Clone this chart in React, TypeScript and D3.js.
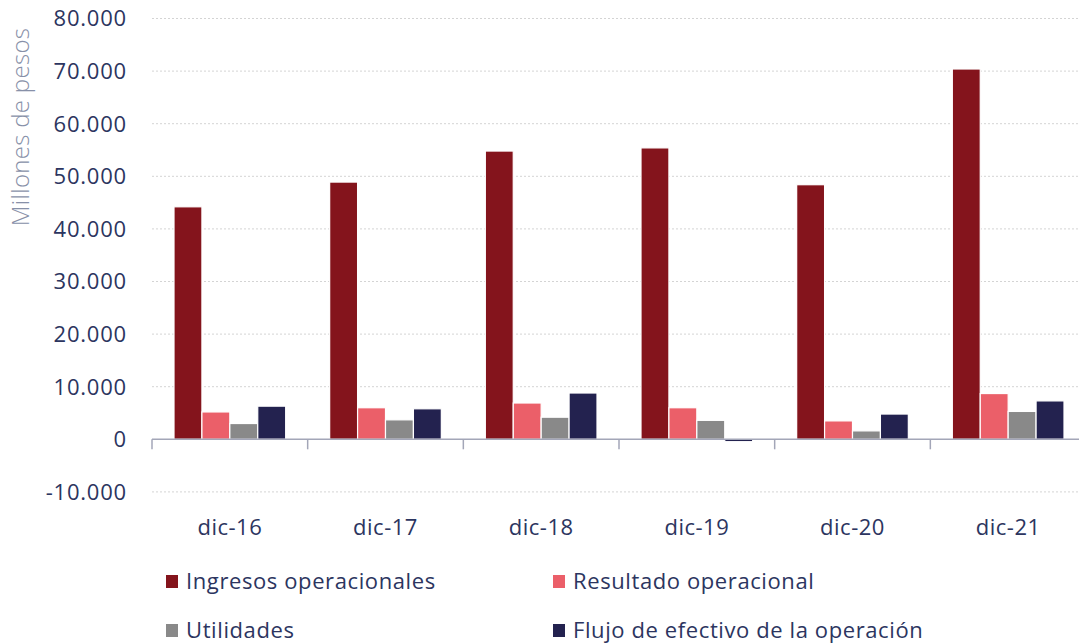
import { useEffect, useRef } from "react";
import * as d3 from "d3";

const categories = ["dic-16", "dic-17", "dic-18", "dic-19", "dic-20", "dic-21"];
const seriesNames = [
  "Ingresos operacionales",
  "Resultado operacional",
  "Utilidades",
  "Flujo de efectivo de la operación",
];
const ingresos = [44200, 48900, 54800, 55400, 48400, 70400];
const resultado = [5200, 6000, 6900, 6000, 3500, 8700];
const utilidades = [3000, 3700, 4200, 3600, 1600, 5300];
const flujo = [6300, 5800, 8800, -450, 4800, 7300];
const colors = ["#84141c", "#eb5f69", "#898989", "#23224f"];
const yTicks = [-10000, 0, 10000, 20000, 30000, 40000, 50000, 60000, 70000, 80000];

const W = 1079;
const H = 644;
const plot = { top: 18.5, bottom: 491.9, left: 152, right: 1086 };

export default function App() {
  const svgRef = useRef<SVGSVGElement>(null);

  useEffect(() => {
    const svg = d3.select(svgRef.current);
    svg.selectAll("*").remove();

    const font = "'Open Sans', sans-serif";
    const textColor = "#2c3560";
    const values = [ingresos, resultado, utilidades, flujo];

    const x = d3.scaleBand().domain(categories).range([plot.left, plot.right]);

    const inner = d3
      .scaleBand()
      .domain(seriesNames)
      .range([22, x.bandwidth() - 22]);

    const y = d3
      .scaleLinear()
      .domain([-10000, 80000])
      .range([plot.bottom, plot.top]);

    const fmt = (v: number) =>
      v === 0 ? "0" : (v < 0 ? "-" : "") + d3.format(",")(Math.abs(v)).replace(/,/g, ".");

    // gridlines
    svg
      .append("g")
      .selectAll("line")
      .data(yTicks.filter((t) => t !== 0))
      .join("line")
      .attr("x1", plot.left)
      .attr("x2", plot.right)
      .attr("y1", (d) => y(d))
      .attr("y2", (d) => y(d))
      .attr("stroke", "#d4d4d4")
      .attr("stroke-width", 1)
      .attr("stroke-dasharray", "2,2");

    // y tick labels
    svg
      .append("g")
      .selectAll("text")
      .data(yTicks)
      .join("text")
      .attr("x", 127)
      .attr("y", (d) => y(d))
      .attr("dy", "0.36em")
      .attr("text-anchor", "end")
      .attr("font-family", font)
      .attr("font-size", 22)
      .attr("letter-spacing", 0.8)
      .attr("fill", textColor)
      .text((d) => fmt(d));

    // y axis title
    svg
      .append("text")
      .attr("transform", `translate(29,127) rotate(-90)`)
      .attr("text-anchor", "middle")
      .attr("font-family", font)
      .attr("font-weight", 300)
      .attr("font-size", 24)
      .attr("letter-spacing", 0.3)
      .attr("fill", "#8790a8")
      .text("Millones de pesos");

    // bars
    seriesNames.forEach((name, si) => {
      svg
        .append("g")
        .selectAll("rect")
        .data(categories.map((c, i) => ({ c, v: values[si][i] })))
        .join("rect")
        .attr("x", (d) => (x(d.c) as number) + (inner(name) as number))
        .attr("width", inner.bandwidth())
        .attr("y", (d) => y(Math.max(0, d.v)))
        .attr("height", (d) => Math.abs(y(d.v) - y(0)))
        .attr("fill", colors[si])
        .attr("stroke", "#fff")
        .attr("stroke-width", 1.2);
    });

    // x axis line and ticks
    const axisColor = "#a3a6b8";
    svg
      .append("line")
      .attr("x1", plot.left)
      .attr("x2", plot.right)
      .attr("y1", y(0))
      .attr("y2", y(0))
      .attr("stroke", axisColor)
      .attr("stroke-width", 1.5);

    svg
      .append("g")
      .selectAll("line")
      .data(categories.map((c) => x(c) as number))
      .join("line")
      .attr("x1", (d) => d)
      .attr("x2", (d) => d)
      .attr("y1", y(0))
      .attr("y2", y(0) + 10)
      .attr("stroke", axisColor)
      .attr("stroke-width", 1.5);

    // x labels
    svg
      .append("g")
      .selectAll("text")
      .data(categories)
      .join("text")
      .attr("x", (d) => (x(d) as number) + x.bandwidth() / 2)
      .attr("y", 527)
      .attr("dy", "0.36em")
      .attr("text-anchor", "middle")
      .attr("font-family", font)
      .attr("font-size", 22)
      .attr("letter-spacing", 0.5)
      .attr("fill", textColor)
      .text((d) => d);

    // legend
    const legendPos = [
      { x: 166, y: 581 },
      { x: 553, y: 581 },
      { x: 166, y: 630 },
      { x: 553, y: 630 },
    ];
    const legend = svg
      .append("g")
      .selectAll("g")
      .data(seriesNames)
      .join("g")
      .attr("transform", (d, i) => `translate(${legendPos[i].x},${legendPos[i].y})`);
    legend
      .append("rect")
      .attr("x", 0)
      .attr("y", -6)
      .attr("width", 12)
      .attr("height", 13)
      .attr("fill", (d, i) => colors[i]);
    legend
      .append("text")
      .attr("x", 20)
      .attr("y", 0)
      .attr("dy", "0.36em")
      .attr("font-family", font)
      .attr("font-size", 22)
      .attr("letter-spacing", 0.6)
      .attr("fill", textColor)
      .text((d) => d);
  }, []);

  return (
    <svg
      ref={svgRef}
      width={W}
      height={H}
      style={{ position: "absolute", left: 0, top: 0, background: "#fff" }}
    ></svg>
  );
}
